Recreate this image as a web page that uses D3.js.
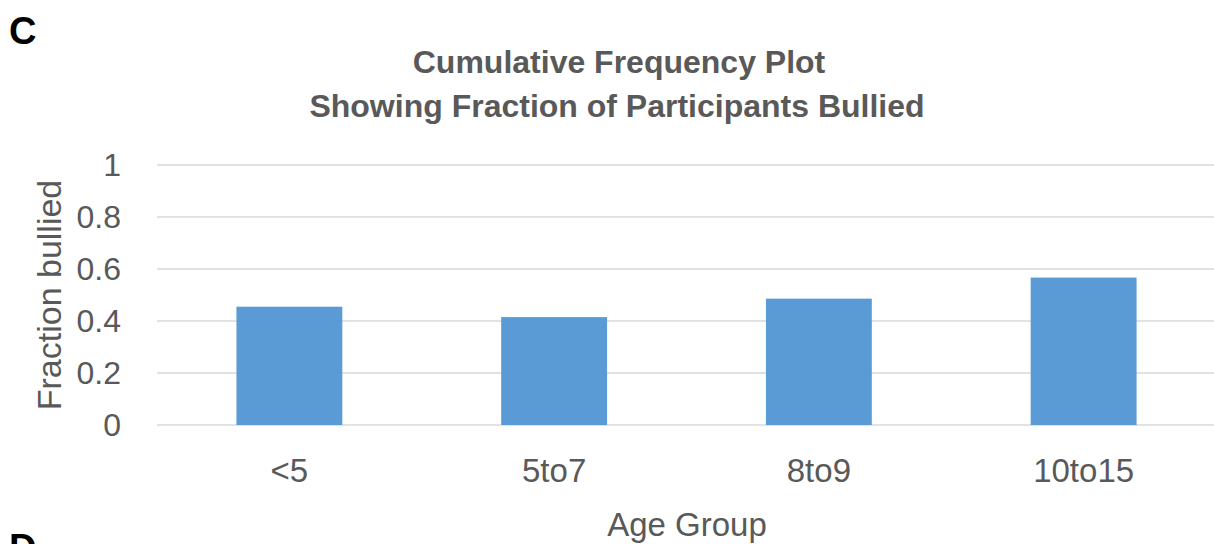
<!DOCTYPE html>
<html>
<head>
<meta charset="utf-8">
<script src="https://cdn.jsdelivr.net/npm/d3@7"></script>
<style>
  body { margin: 0; background: #fff; }
  svg text { font-family: "Liberation Sans", Arial, sans-serif; fill: #595959; }
</style>
</head>
<body>
<svg width="1214" height="544"></svg>
<script>
var ageGroups = ["<5", "5to7", "8to9", "10to15"];
var fractionBullied = [0.455, 0.415, 0.486, 0.567];
var yTicks = [0, 0.2, 0.4, 0.6, 0.8, 1];

var svg = d3.select("svg");
var margin = {top: 165, right: 0, bottom: 119, left: 157};
var width = 1216 - margin.left,
    height = 544 - margin.top - margin.bottom;

var data = ageGroups.map(function(g, i) { return {group: g, value: fractionBullied[i]}; });

var x = d3.scaleBand().domain(ageGroups).range([0, width]).paddingInner(0.6).paddingOuter(0.3);
var y = d3.scaleLinear().domain([0, 1]).range([height, 0]);

var g = svg.append("g").attr("transform", "translate(" + margin.left + "," + margin.top + ")");

// gridlines
g.selectAll(".grid")
  .data(yTicks)
  .enter().append("line")
  .attr("class", "grid")
  .attr("x1", 0)
  .attr("x2", width)
  .attr("y1", function(d) { return y(d); })
  .attr("y2", function(d) { return y(d); })
  .attr("stroke", "#d9d9d9")
  .attr("stroke-width", 1.5);

g.selectAll(".bar")
  .data(data)
  .enter().append("rect")
  .attr("class", "bar")
  .attr("x", function(d) { return x(d.group); })
  .attr("y", function(d) { return y(d.value); })
  .attr("width", x.bandwidth())
  .attr("height", function(d) { return height - y(d.value); })
  .attr("fill", "#5b9bd5");

// y axis (labels only)
var yAxis = g.append("g")
  .attr("transform", "translate(-36,0)")
  .call(d3.axisLeft(y).tickValues(yTicks).tickSize(0).tickPadding(0).tickFormat(d3.format("~g")));
yAxis.select(".domain").remove();
yAxis.selectAll("text").style("font-size", "32px").attr("fill", "#595959");

// x axis (labels only)
var xAxis = g.append("g")
  .attr("transform", "translate(0," + height + ")")
  .call(d3.axisBottom(x).tickSize(0).tickPadding(34));
xAxis.select(".domain").remove();
xAxis.selectAll("text").style("font-size", "33px").attr("fill", "#595959");

// axis titles
svg.append("text")
  .attr("transform", "translate(61,295) rotate(-90)")
  .attr("text-anchor", "middle")
  .style("font-size", "34px")
  .text("Fraction bullied");

svg.append("text")
  .attr("x", 687)
  .attr("y", 536)
  .attr("text-anchor", "middle")
  .style("font-size", "33px")
  .text("Age Group");

// title
svg.append("text")
  .attr("x", 619)
  .attr("y", 73)
  .attr("text-anchor", "middle")
  .style("font-size", "32px")
  .style("font-weight", "bold")
  .text("Cumulative Frequency Plot");

svg.append("text")
  .attr("x", 617)
  .attr("y", 117)
  .attr("text-anchor", "middle")
  .style("font-size", "32px")
  .style("font-weight", "bold")
  .text("Showing Fraction of Participants Bullied");

// panel letters
svg.append("text")
  .attr("x", 9)
  .attr("y", 44)
  .style("font-size", "38px")
  .style("font-weight", "bold")
  .style("fill", "#000")
  .text("C");

svg.append("text")
  .attr("x", 9)
  .attr("y", 561)
  .style("font-size", "38px")
  .style("font-weight", "bold")
  .style("fill", "#000")
  .text("D");
</script>
</body>
</html>
